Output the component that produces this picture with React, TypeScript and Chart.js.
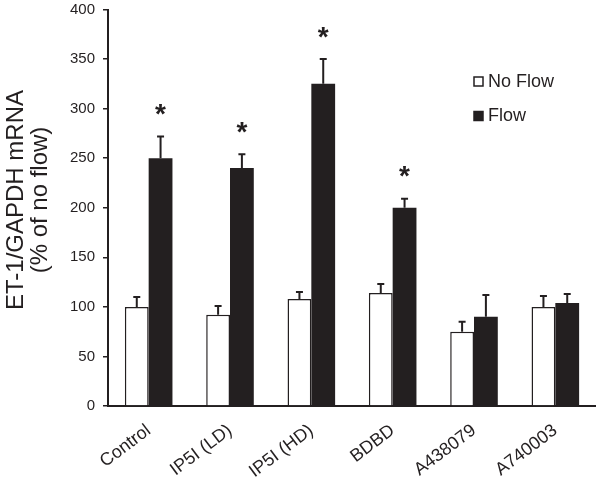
import React, { useEffect, useRef } from 'react';
import { Chart, registerables } from 'chart.js';

Chart.register(...registerables);

const categories = ['Control', 'IP5I (LD)', 'IP5I (HD)', 'BDBD', 'A438079', 'A740003'];
const noFlow = [100, 92, 108, 114, 75, 100];
const noFlowErr = [10, 9, 7, 9, 10, 11];
const flow = [250, 240, 325, 200, 90, 104];
const flowErr = [22, 14, 25, 9, 22, 9];
const significant = [true, true, true, true, false, false];
const seriesNames = ['No Flow', 'Flow'];
const yTitle = ['ET-1/GAPDH mRNA', '(% of no flow)'];

const FONT = '"Liberation Sans", Arial, Helvetica, sans-serif';
const DARK = '#231f20';

export default function App() {
  const ref = useRef<HTMLCanvasElement>(null);

  useEffect(() => {
    const canvas = ref.current;
    if (!canvas) return;

    const extras = {
      id: 'extras',
      afterDatasetsDraw(chart: any) {
        const ctx = chart.ctx;
        const y = chart.scales.y;
        const vals = [noFlow, flow];
        const errs = [noFlowErr, flowErr];
        ctx.save();
        ctx.strokeStyle = DARK;
        ctx.fillStyle = DARK;
        ctx.lineWidth = 2;
        [0, 1].forEach((di) => {
          const meta = chart.getDatasetMeta(di);
          meta.data.forEach((bar: any, i: number) => {
            const x = bar.x;
            const top = y.getPixelForValue(vals[di][i]);
            const et = y.getPixelForValue(vals[di][i] + errs[di][i]);
            ctx.beginPath();
            ctx.moveTo(x, top);
            ctx.lineTo(x, et);
            ctx.moveTo(x - 3.5, et);
            ctx.lineTo(x + 3.5, et);
            ctx.stroke();
            if (di === 1 && significant[i]) {
              ctx.font = `bold 28px ${FONT}`;
              ctx.textAlign = 'center';
              ctx.textBaseline = 'alphabetic';
              const m = ctx.measureText('*');
              const center = et - 27;
              const baseline = center + (m.actualBoundingBoxAscent - m.actualBoundingBoxDescent) / 2;
              ctx.fillText('*', x, baseline);
            }
          });
        });
        ctx.restore();
      },
      afterDraw(chart: any) {
        const ctx = chart.ctx;
        ctx.save();
        // y axis title
        ctx.fillStyle = DARK;
        ctx.font = `24px ${FONT}`;
        ctx.textAlign = 'center';
        ctx.textBaseline = 'alphabetic';
        ctx.translate(0, 200);
        ctx.rotate(-Math.PI / 2);
        ctx.fillText(yTitle[0], 0, 22.5);
        ctx.fillText(yTitle[1], 0, 46.5);
        ctx.restore();

        // legend
        ctx.save();
        ctx.font = `18px ${FONT}`;
        ctx.textAlign = 'left';
        ctx.textBaseline = 'middle';
        ctx.lineWidth = 1.5;
        const boxes = [
          { y: 77, fill: '#ffffff' },
          { y: 111.5, fill: DARK },
        ];
        boxes.forEach((b, i) => {
          ctx.fillStyle = b.fill;
          ctx.strokeStyle = DARK;
          ctx.fillRect(474, b.y, 9, 9);
          ctx.strokeRect(474, b.y, 9, 9);
          ctx.fillStyle = DARK;
          ctx.fillText(seriesNames[i], 488, b.y + 5);
        });
        ctx.restore();
      },
    };

    const chart = new Chart(canvas, {
      type: 'bar',
      data: {
        labels: categories,
        datasets: [
          {
            label: seriesNames[0],
            data: noFlow,
            backgroundColor: '#ffffff',
            borderColor: DARK,
            borderWidth: 1.5,
            borderSkipped: 'bottom',
          },
          {
            label: seriesNames[1],
            data: flow,
            backgroundColor: DARK,
            borderColor: DARK,
            borderWidth: 0,
          },
        ],
      },
      options: {
        responsive: false,
        animation: false,
        events: [],
        datasets: {
          bar: { categoryPercentage: 0.585, barPercentage: 1.0 },
        },
        layout: { padding: { top: 9.5, right: 0, left: 0, bottom: 0 } },
        plugins: {
          legend: { display: false },
          tooltip: { enabled: false },
        },
        scales: {
          x: {
            grid: { drawOnChartArea: false, drawTicks: false },
            border: { display: true, color: DARK, width: 2 },
            ticks: {
              color: DARK,
              font: { family: FONT, size: 18 },
              minRotation: 37,
              maxRotation: 37,
              padding: 14,
              autoSkip: false,
            },
            afterFit: (s: any) => {
              s.height = 73;
              s.paddingLeft = 0;
              s.paddingRight = 0;
            },
          },
          y: {
            min: 0,
            max: 400,
            ticks: {
              stepSize: 50,
              color: DARK,
              font: { family: FONT, size: 15 },
              padding: 8,
            },
            grid: { drawOnChartArea: false, drawTicks: true, tickLength: 5, color: DARK, lineWidth: 1.5 },
            border: { display: true, color: DARK, width: 2 },
            afterFit: (s: any) => {
              s.width = 108;
              s.paddingTop = 0;
              s.paddingBottom = 0;
            },
          },
        },
      },
      plugins: [extras],
    });

    return () => chart.destroy();
  }, []);

  return (
    <div style={{ position: 'fixed', left: 0, top: 0, width: 596, height: 479, background: '#fff' }}>
      <canvas ref={ref} width={596} height={479} style={{ display: 'block' }} />
    </div>
  );
}
